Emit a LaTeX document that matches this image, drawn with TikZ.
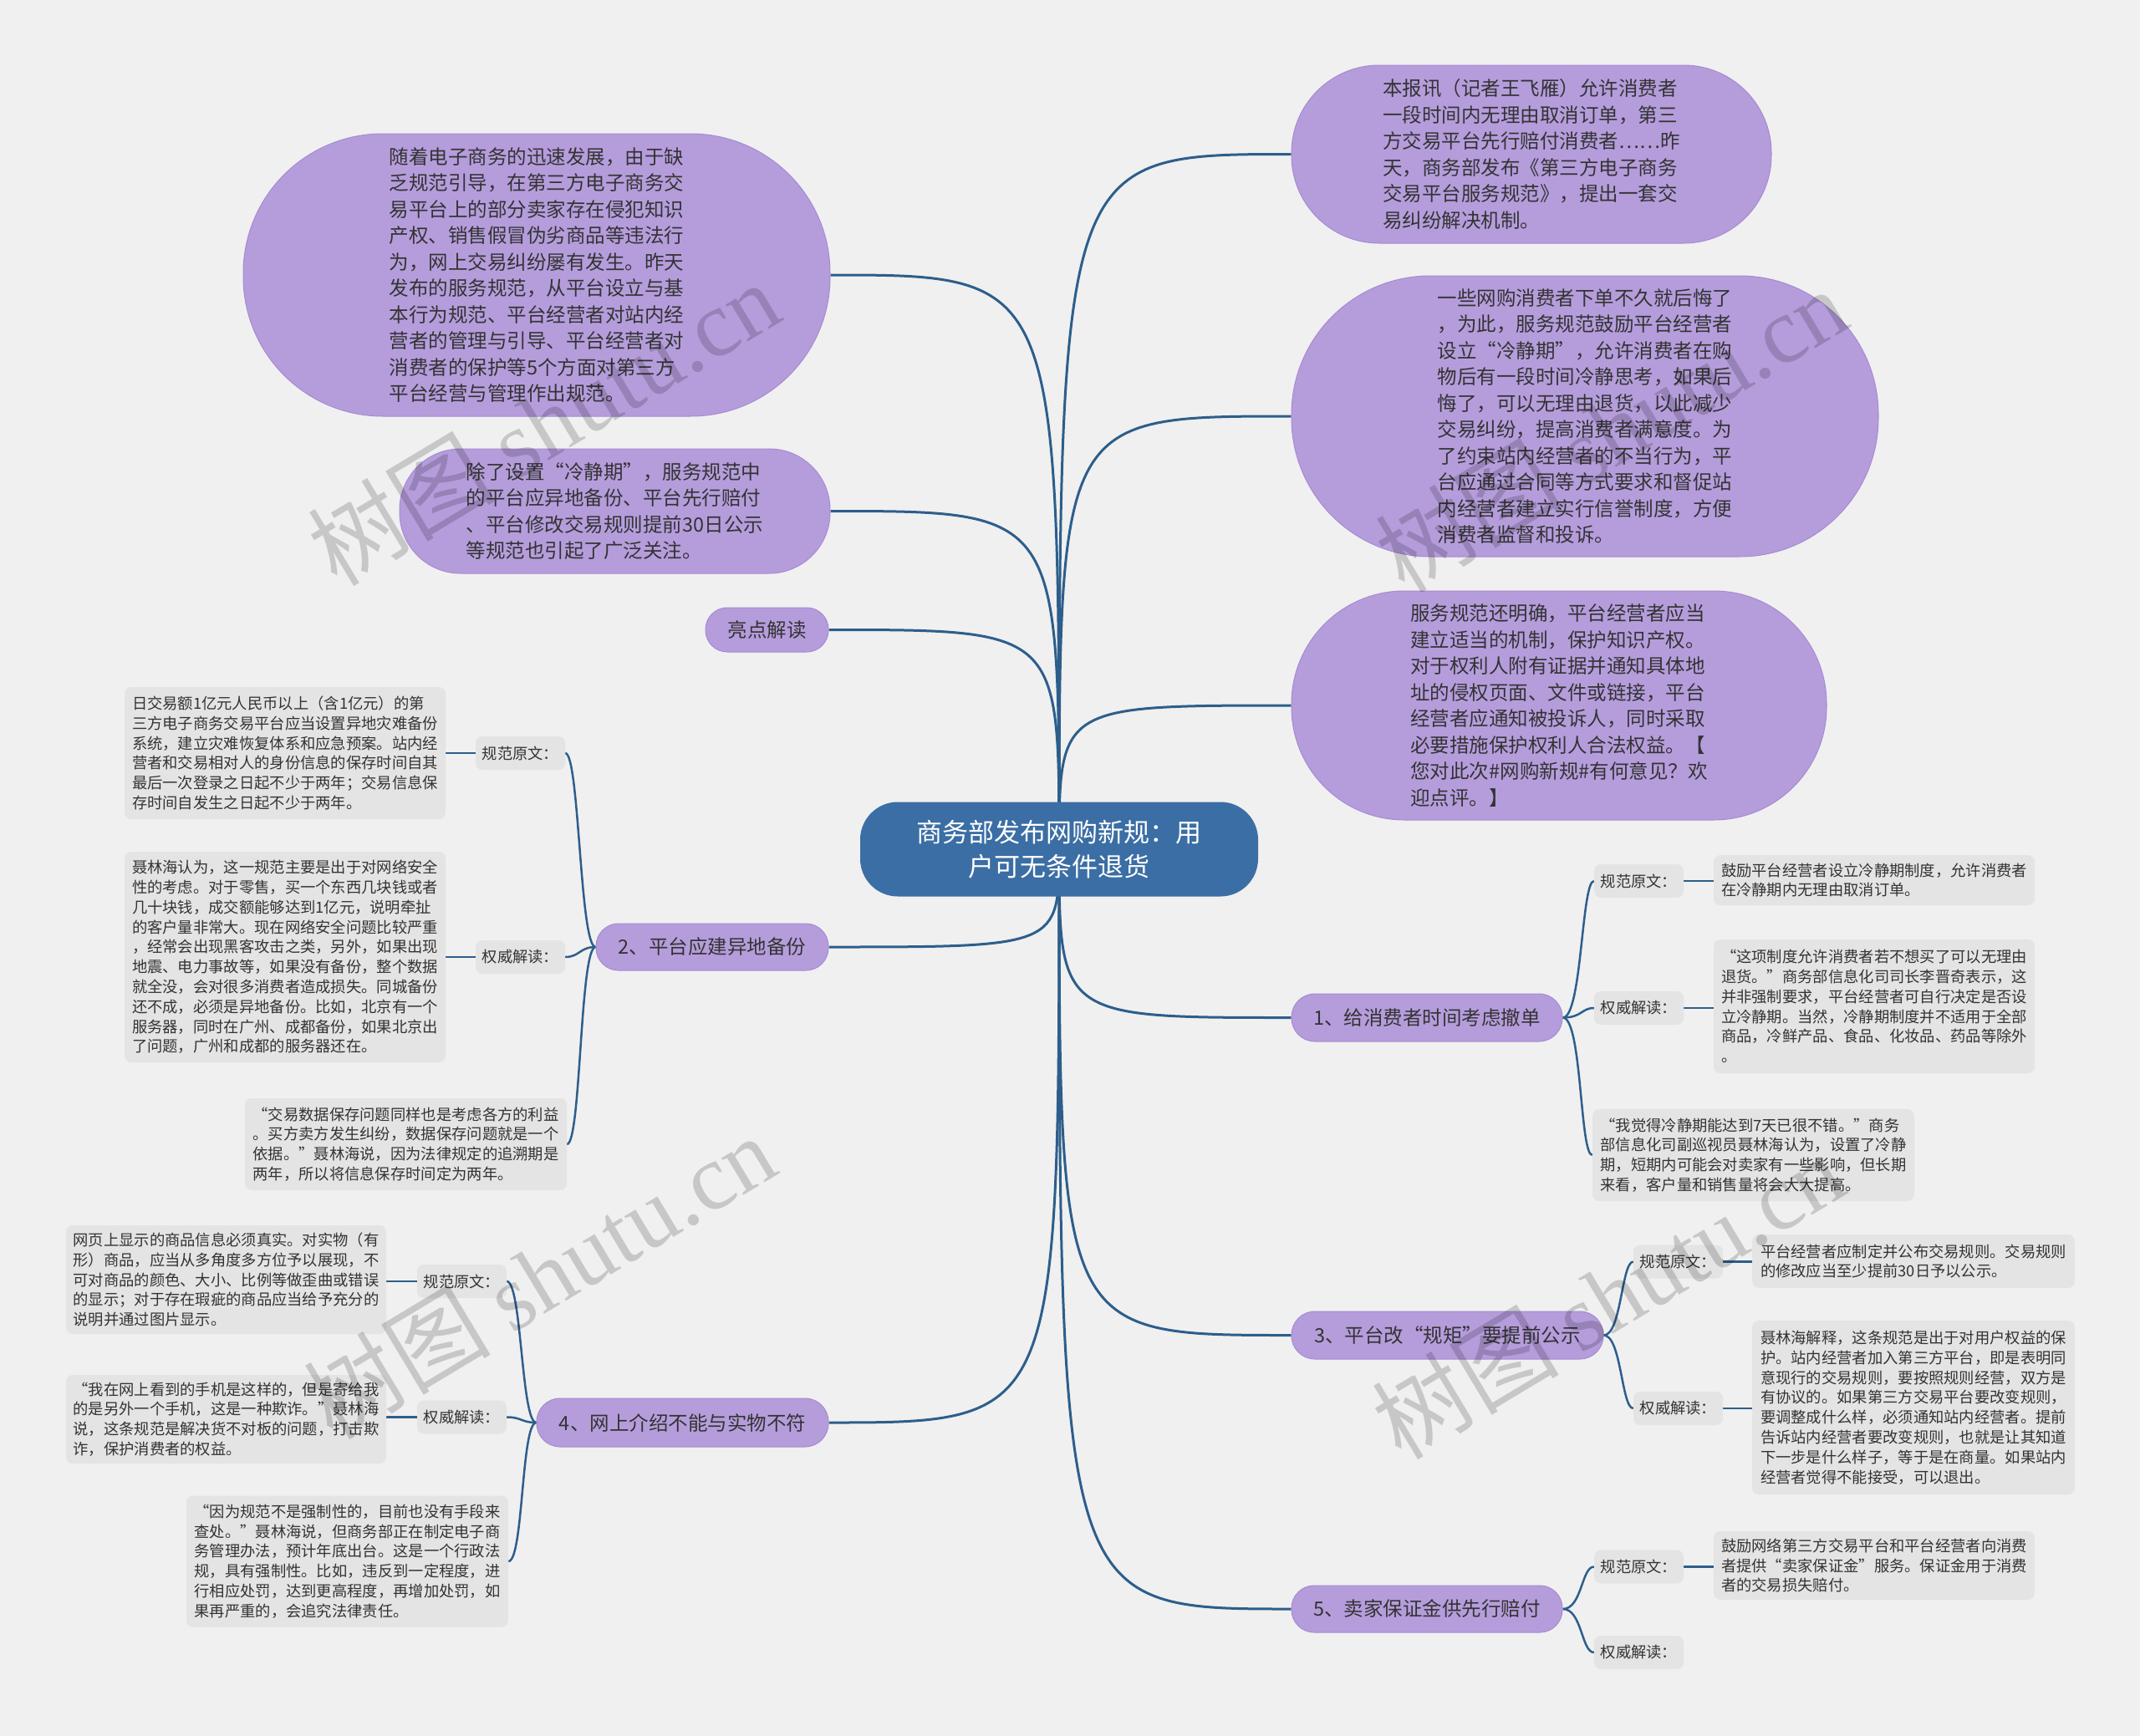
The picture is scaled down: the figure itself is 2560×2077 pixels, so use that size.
\documentclass[tikz,border=0pt]{standalone}
\usepackage{fontspec}
\setmainfont{Noto Sans CJK SC}
\newfontfamily\latinserif{Liberation Serif}
\usetikzlibrary{calc}

\definecolor{paper}{HTML}{F0F0F0}
\definecolor{hubblue}{HTML}{3B6EA4}
\definecolor{linkblue}{HTML}{2D5E8B}
\definecolor{lilac}{HTML}{B59DDC}
\definecolor{lilacedge}{HTML}{A68AD2}
\definecolor{notegray}{HTML}{E4E4E4}
\definecolor{ink}{HTML}{333333}

\pgfdeclarelayer{back}
\pgfdeclarelayer{links}
\pgfsetlayers{back,links,main}

\begin{document}
\begin{tikzpicture}[x=1pt, y=-1pt,
    hublink/.style={draw=linkblue, line width=3pt},
    leaflink/.style={draw=linkblue, line width=2.5pt},
    hubbox/.style={fill=hubblue, text=white, rounded corners=45pt, align=center,
        font=\fontsize{31}{41}\selectfont},
    bubble/.style={fill=lilac, draw=lilacedge, line width=1pt, text=ink, align=left,
        font=\fontsize{23.5}{31.5}\selectfont},
    notebox/.style={fill=notegray, text=ink, rounded corners=8pt, align=left,
        font=\fontsize{18.3}{23.8}\selectfont},
    tagbox/.style={notebox, minimum width=107pt, minimum height=40pt},
    wmtext/.style={text=black, opacity=0.17, rotate=31, font=\fontsize{112}{112}\selectfont}]
    \begin{pgfonlayer}{back}
        \fill[paper] (0,0) rectangle (2560,2077);
    \end{pgfonlayer}
    \useasboundingbox (0,0) rectangle (2560,2077);

    % centre
    \node[hubbox, minimum width=476pt, minimum height=113pt] (hub) at (1267,1016)
        {商务部发布网购新规：用\\户可无条件退货};

    % right side
    \node[bubble, rounded corners=105pt, minimum width=574pt, minimum height=213pt] (r1) at (1832,184.5)
        {本报讯（记者王飞雁）允许消费者\\一段时间内无理由取消订单，第三\\方交易平台先行赔付消费者……昨\\天，商务部发布《第三方电子商务\\交易平台服务规范》，提出一套交\\易纠纷解决机制。};
    \node[bubble, rounded corners=166pt, minimum width=702pt, minimum height=336pt] (r2) at (1896,498)
        {一些网购消费者下单不久就后悔了\\，为此，服务规范鼓励平台经营者\\设立“冷静期”，允许消费者在购\\物后有一段时间冷静思考，如果后\\悔了，可以无理由退货，以此减少\\交易纠纷，提高消费者满意度。为\\了约束站内经营者的不当行为，平\\台应通过合同等方式要求和督促站\\内经营者建立实行信誉制度，方便\\消费者监督和投诉。};
    \node[bubble, rounded corners=135pt, minimum width=640pt, minimum height=274pt] (r3) at (1865,844)
        {服务规范还明确，平台经营者应当\\建立适当的机制，保护知识产权。\\对于权利人附有证据并通知具体地\\址的侵权页面、文件或链接，平台\\经营者应通知被投诉人，同时采取\\必要措施保护权利人合法权益。【\\您对此次\#网购新规\#有何意见？欢\\迎点评。】};
    \node[bubble, rounded corners=28pt, minimum width=324pt, minimum height=57pt] (b1) at (1707,1217.5)
        {1、给消费者时间考虑撤单};
    \node[bubble, rounded corners=28pt, minimum width=373pt, minimum height=57pt] (b3) at (1731.5,1597.5)
        {3、平台改“规矩”要提前公示};
    \node[bubble, rounded corners=27pt, minimum width=324pt, minimum height=56pt] (b5) at (1707,1925)
        {5、卖家保证金供先行赔付};

    % left side
    \node[bubble, rounded corners=167pt, minimum width=702pt, minimum height=338pt] (l1) at (642,329)
        {随着电子商务的迅速发展，由于缺\\乏规范引导，在第三方电子商务交\\易平台上的部分卖家存在侵犯知识\\产权、销售假冒伪劣商品等违法行\\为，网上交易纠纷屡有发生。昨天\\发布的服务规范，从平台设立与基\\本行为规范、平台经营者对站内经\\营者的管理与引导、平台经营者对\\消费者的保护等5个方面对第三方\\平台经营与管理作出规范。};
    \node[bubble, rounded corners=73pt, minimum width=515pt, minimum height=149pt] (l2) at (735.5,611.5)
        {除了设置“冷静期”，服务规范中\\的平台应异地备份、平台先行赔付\\、平台修改交易规则提前30日公示\\等规范也引起了广泛关注。};
    \node[bubble, rounded corners=26pt, minimum width=147pt, minimum height=53pt] (l3) at (917.5,753.5)
        {亮点解读};
    \node[bubble, rounded corners=27pt, minimum width=278pt, minimum height=56pt] (b2) at (852,1133)
        {2、平台应建异地备份};
    \node[bubble, rounded corners=28pt, minimum width=349pt, minimum height=58pt] (b4) at (816.5,1702)
        {4、网上介绍不能与实物不符};

    % branch 1
    \node[tagbox] (b1a) at (1960.5,1054) {规范原文：};
    \node[tagbox] (b1b) at (1960.5,1206) {权威解读：};
    \node[notebox, minimum width=384pt, minimum height=60pt] (b1at) at (2242,1053)
        {鼓励平台经营者设立冷静期制度，允许消费者\\在冷静期内无理由取消订单。};
    \node[notebox, minimum width=384pt, minimum height=160pt] (b1bt) at (2242,1204)
        {“这项制度允许消费者若不想买了可以无理由\\退货。”商务部信息化司司长李晋奇表示，这\\并非强制要求，平台经营者可自行决定是否设\\立冷静期。当然，冷静期制度并不适用于全部\\商品，冷鲜产品、食品、化妆品、药品等除外\\。};
    \node[notebox, minimum width=385pt, minimum height=110pt] (b1c) at (2097.5,1382)
        {“我觉得冷静期能达到7天已很不错。”商务\\部信息化司副巡视员聂林海认为，设置了冷静\\期，短期内可能会对卖家有一些影响，但长期\\来看，客户量和销售量将会大大提高。};

    % branch 3
    \node[tagbox] (b3a) at (2007.5,1509.5) {规范原文：};
    \node[tagbox] (b3b) at (2007.5,1685) {权威解读：};
    \node[notebox, minimum width=386pt, minimum height=64pt] (b3at) at (2289,1509)
        {平台经营者应制定并公布交易规则。交易规则\\的修改应当至少提前30日予以公示。};
    \node[notebox, minimum width=386pt, minimum height=208pt] (b3bt) at (2289,1684)
        {聂林海解释，这条规范是出于对用户权益的保\\护。站内经营者加入第三方平台，即是表明同\\意现行的交易规则，要按照规则经营，双方是\\有协议的。如果第三方交易平台要改变规则，\\要调整成什么样，必须通知站内经营者。提前\\告诉站内经营者要改变规则，也就是让其知道\\下一步是什么样子，等于是在商量。如果站内\\经营者觉得不能接受，可以退出。};

    % branch 5
    \node[tagbox] (b5a) at (1960.5,1874.5) {规范原文：};
    \node[tagbox] (b5b) at (1960.5,1977) {权威解读：};
    \node[notebox, minimum width=384pt, minimum height=82pt] (b5at) at (2242,1873)
        {鼓励网络第三方交易平台和平台经营者向消费\\者提供“卖家保证金”服务。保证金用于消费\\者的交易损失赔付。};

    % branch 2
    \node[tagbox] (b2a) at (622.5,901) {规范原文：};
    \node[tagbox] (b2b) at (622.5,1145) {权威解读：};
    \node[notebox, minimum width=384pt, minimum height=158pt] (b2at) at (341,901)
        {日交易额1亿元人民币以上（含1亿元）的第\\三方电子商务交易平台应当设置异地灾难备份\\系统，建立灾难恢复体系和应急预案。站内经\\营者和交易相对人的身份信息的保存时间自其\\最后一次登录之日起不少于两年；交易信息保\\存时间自发生之日起不少于两年。};
    \node[notebox, minimum width=384pt, minimum height=252pt] (b2bt) at (341,1145)
        {聂林海认为，这一规范主要是出于对网络安全\\性的考虑。对于零售，买一个东西几块钱或者\\几十块钱，成交额能够达到1亿元，说明牵扯\\的客户量非常大。现在网络安全问题比较严重\\，经常会出现黑客攻击之类，另外，如果出现\\地震、电力事故等，如果没有备份，整个数据\\就全没，会对很多消费者造成损失。同城备份\\还不成，必须是异地备份。比如，北京有一个\\服务器，同时在广州、成都备份，如果北京出\\了问题，广州和成都的服务器还在。};
    \node[notebox, minimum width=385pt, minimum height=110pt] (b2c) at (485.5,1369)
        {“交易数据保存问题同样也是考虑各方的利益\\。买方卖方发生纠纷，数据保存问题就是一个\\依据。”聂林海说，因为法律规定的追溯期是\\两年，所以将信息保存时间定为两年。};

    % branch 4
    \node[tagbox] (b4a) at (552.5,1533) {规范原文：};
    \node[tagbox] (b4b) at (552.5,1695.5) {权威解读：};
    \node[notebox, minimum width=383pt, minimum height=130pt] (b4at) at (270.5,1531)
        {网页上显示的商品信息必须真实。对实物（有\\形）商品，应当从多角度多方位予以展现，不\\可对商品的颜色、大小、比例等做歪曲或错误\\的显示；对于存在瑕疵的商品应当给予充分的\\说明并通过图片显示。};
    \node[notebox, minimum width=383pt, minimum height=106pt] (b4bt) at (270.5,1698)
        {“我在网上看到的手机是这样的，但是寄给我\\的是另外一个手机，这是一种欺诈。”聂林海\\说，这条规范是解决货不对板的问题，打击欺\\诈，保护消费者的权益。};
    \node[notebox, minimum width=385pt, minimum height=157pt] (b4c) at (415.5,1868)
        {“因为规范不是强制性的，目前也没有手段来\\查处。”聂林海说，但商务部正在制定电子商\\务管理办法，预计年底出台。这是一个行政法\\规，具有强制性。比如，违反到一定程度，进\\行相应处罚，达到更高程度，再增加处罚，如\\果再严重的，会追究法律责任。};

    \begin{pgfonlayer}{links}
        \foreach \t in {r1,r2,r3,b1,b3,b5}
            \draw[hublink] (hub.center) .. controls (hub.center |- \t.west) .. (\t.west);
        \foreach \t in {l1,l2,l3,b2,b4}
            \draw[hublink] (hub.center) .. controls (hub.center |- \t.east) .. (\t.east);

        \foreach \t in {b1a,b1b,b1c}
            \draw[leaflink] (b1.east) .. controls +(23,0) and +(-15,0) .. (\t.west);
        \foreach \t in {b3a,b3b}
            \draw[leaflink] (b3.east) .. controls +(21,0) and +(-14,0) .. (\t.west);
        \foreach \t in {b5a,b5b}
            \draw[leaflink] (b5.east) .. controls +(23,0) and +(-15,0) .. (\t.west);
        \foreach \t in {b2a,b2b,b2c}
            \draw[leaflink] (b2.west) .. controls +(-19,0) and +(17,0) .. (\t.east);
        \foreach \t in {b4a,b4b,b4c}
            \draw[leaflink] (b4.west) .. controls +(-18,0) and +(18,0) .. (\t.east);

        \foreach \t in {b1a,b1b,b3a,b3b,b5a}
            \draw[leaflink] (\t.east) -- (\t.east -| \t t.west);
        \foreach \t in {b2a,b2b,b4a,b4b}
            \draw[leaflink] (\t.west) -- (\t.west -| \t t.east);
    \end{pgfonlayer}

    % watermark
    \foreach \p [count=\i] in {(650,506),(1927,514),(645,1527),(1923,1551)}
        \node[wmtext] (wm\i) at \p {树图 {\latinserif shutu.cn}};
\end{tikzpicture}
\end{document}
